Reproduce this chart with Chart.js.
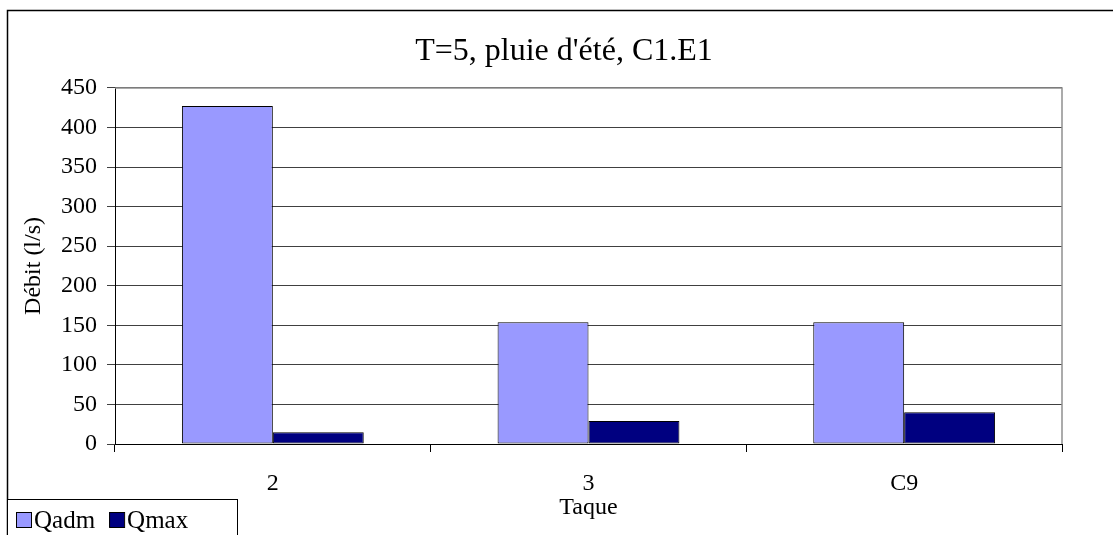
<!DOCTYPE html>
<html>
<head>
<meta charset="utf-8">
<script src="https://cdn.jsdelivr.net/npm/chart.js@4.4.0/dist/chart.umd.min.js"></script>
<style>
  body { margin: 0; background: #fff; }
  #wrap { width: 1115px; height: 535px; }
</style>
</head>
<body>
<div id="wrap"><canvas id="chart" width="1115" height="535"></canvas></div>
<script>
const categories = ["2", "3", "C9"];
const qadmValues = [427, 154, 154];
const qmaxValues = [15, 29, 40];
const yTicks = [0, 50, 100, 150, 200, 250, 300, 350, 400, 450];

const serif = "'Liberation Serif', 'Times New Roman', serif";

// Outer frame and plot-area border
const framePlugin = {
  id: "frame",
  beforeDraw(chart) {
    const ctx = chart.ctx;
    ctx.save();
    ctx.strokeStyle = "#000";
    ctx.lineWidth = 1.5;
    ctx.beginPath();
    ctx.moveTo(7.5, 535);
    ctx.lineTo(7.5, 10.5);
    ctx.lineTo(1113, 10.5);
    ctx.stroke();
    ctx.restore();
  },
  afterDatasetsDraw(chart) {
    const a = chart.chartArea;
    const ctx = chart.ctx;
    ctx.save();
    ctx.strokeStyle = "#909090";
    ctx.lineWidth = 1.5;
    ctx.beginPath();
    ctx.moveTo(a.left, a.top);
    ctx.lineTo(a.right, a.top);
    ctx.lineTo(a.right, a.bottom);
    ctx.stroke();
    ctx.restore();
  }
};

// Boxed legend in the lower left corner, like the original
const boxLegend = {
  id: "boxLegend",
  afterDraw(chart) {
    const ctx = chart.ctx;
    ctx.save();
    ctx.fillStyle = "#fff";
    ctx.fillRect(7, 499, 230, 40);
    ctx.strokeStyle = "#000";
    ctx.lineWidth = 1;
    ctx.strokeRect(7.5, 499.5, 230, 40);
    ctx.font = "25px " + serif;
    ctx.textBaseline = "alphabetic";
    let x = 16;
    chart.data.datasets.forEach((ds) => {
      ctx.fillStyle = ds.backgroundColor;
      ctx.fillRect(x, 512, 15, 15);
      ctx.strokeStyle = "#000";
      ctx.strokeRect(x + 0.5, 512.5, 15, 15);
      ctx.fillStyle = "#000";
      ctx.fillText(ds.label, x + 18, 528);
      x += 18 + ctx.measureText(ds.label).width + 14;
    });
    ctx.restore();
  }
};

const ctx = document.getElementById("chart").getContext("2d");
new Chart(ctx, {
  type: "bar",
  data: {
    labels: categories,
    datasets: [
      {
        label: "Qadm",
        data: qadmValues,
        backgroundColor: "#9999ff",
        borderColor: "#000",
        borderWidth: 1,
        borderSkipped: false,
        categoryPercentage: 0.576,
        barPercentage: 1.0,
      },
      {
        label: "Qmax",
        data: qmaxValues,
        backgroundColor: "#000080",
        borderColor: "#000",
        borderWidth: 1,
        borderSkipped: false,
        categoryPercentage: 0.576,
        barPercentage: 1.0,
      },
    ],
  },
  options: {
    responsive: false,
    animation: false,
    layout: { padding: { left: 13, right: 0, top: 0, bottom: 0 } },
    plugins: {
      legend: { display: false },
      tooltip: { enabled: false },
      title: {
        display: true,
        text: "T=5, pluie d'été, C1.E1",
        color: "#000",
        font: { family: serif, size: 32, weight: "normal" },
        padding: { top: 32, bottom: 17.5 },
      },
    },
    scales: {
      x: {
        grid: {
          offset: true,
          drawOnChartArea: false,
          tickLength: 8,
          color: "#000",
        },
        border: { color: "#000", width: 1 },
        ticks: {
          color: "#000",
          padding: 17,
          font: { family: serif, size: 24 },
        },
        title: {
          display: true,
          text: "Taque",
          color: "#000",
          font: { family: serif, size: 24 },
          padding: { top: 0, bottom: 13 },
        },
        afterFit(scale) { scale.height = 91; },
      },
      y: {
        min: 0,
        max: 450,
        afterBuildTicks(scale) {
          scale.ticks = yTicks.map((v) => ({ value: v }));
        },
        grid: { color: "#404040", tickLength: 8, lineWidth: 1 },
        border: { color: "#000", width: 1 },
        ticks: {
          color: "#000",
          padding: 10,
          font: { family: serif, size: 24 },
        },
        title: {
          display: true,
          text: "Débit (l/s)",
          color: "#000",
          font: { family: serif, size: 24 },
          padding: { top: 6, bottom: 0 },
        },
        afterFit(scale) { scale.width = 102; },
      },
      // empty right axis, only keeps the plot area off the right edge
      yRight: {
        position: "right",
        display: true,
        grid: { display: false },
        border: { display: false },
        ticks: { display: false },
        afterFit(scale) { scale.width = 53; },
      },
    },
  },
  plugins: [framePlugin, boxLegend],
});
</script>
</body>
</html>
